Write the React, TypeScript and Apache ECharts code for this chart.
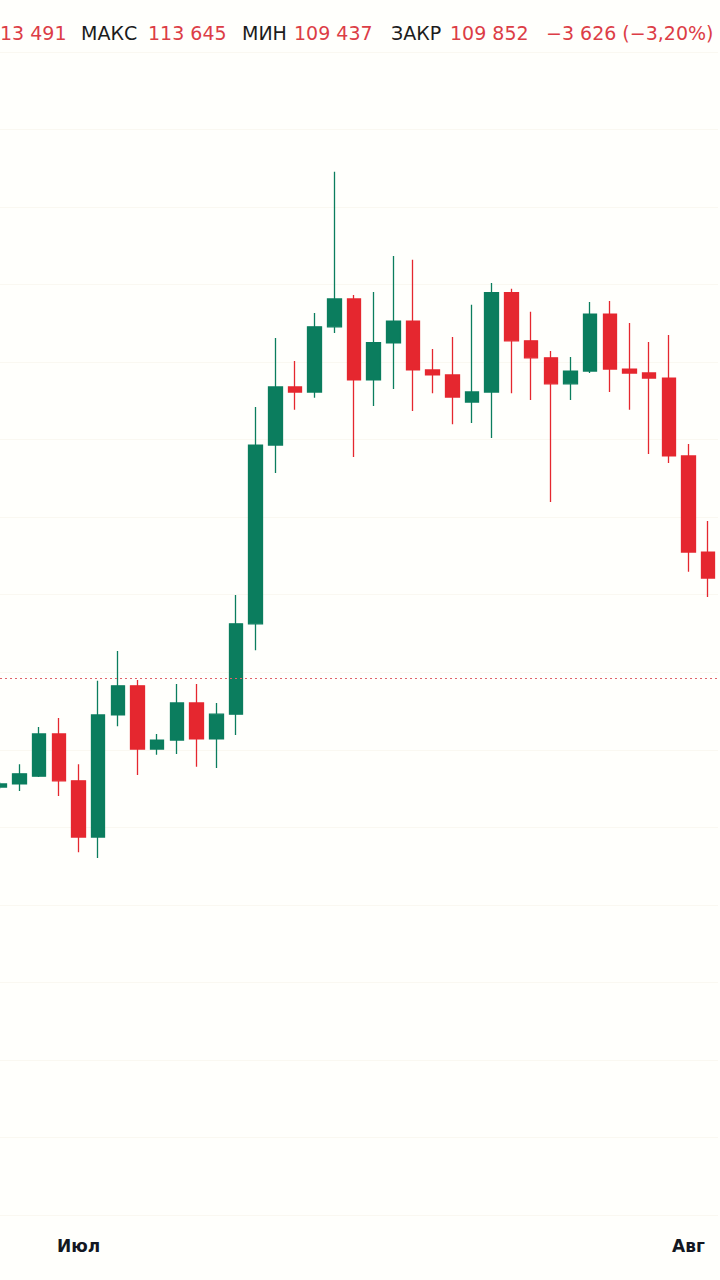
import React, { useEffect, useRef } from "react";
import * as echarts from "echarts";

// Daily candles, 27 Jun – 2 Aug
const dates = [
  "2025-06-27", "2025-06-28", "2025-06-29", "2025-06-30",
  "2025-07-01", "2025-07-02", "2025-07-03", "2025-07-04", "2025-07-05", "2025-07-06",
  "2025-07-07", "2025-07-08", "2025-07-09", "2025-07-10", "2025-07-11", "2025-07-12",
  "2025-07-13", "2025-07-14", "2025-07-15", "2025-07-16", "2025-07-17", "2025-07-18",
  "2025-07-19", "2025-07-20", "2025-07-21", "2025-07-22", "2025-07-23", "2025-07-24",
  "2025-07-25", "2025-07-26", "2025-07-27", "2025-07-28", "2025-07-29", "2025-07-30",
  "2025-07-31", "2025-08-01", "2025-08-02",
];

const opens = [
  107040, 107120, 107320, 108410, 107200, 105750, 108900, 109650, 108020, 108250,
  109210, 108280, 108920, 111250, 115860, 117360, 117230, 118910, 119630, 117540,
  118500, 119060, 117800, 117670, 116970, 117230, 119790, 118550, 118110, 117440,
  117770, 119240, 117820, 117720, 117590, 115580, 113100,
];
const closes = [
  107120, 107380, 108410, 107200, 105750, 108900, 109650, 108020, 108250, 109210,
  108280, 108920, 111250, 115860, 117360, 117230, 118910, 119630, 117540, 118500,
  119060, 117800, 117670, 117100, 117230, 119790, 118550, 118110, 117440, 117770,
  119240, 117820, 117720, 117590, 115580, 113100, 112430,
];
const highs = [
  107170, 107630, 108590, 108820, 107630, 109780, 110550, 109800, 108410, 109700,
  109700, 109210, 111990, 116840, 118620, 118030, 119270, 122910, 119730, 119810,
  120740, 120640, 118340, 118650, 119480, 120040, 119890, 119300, 118290, 118130,
  119550, 119580, 119010, 118520, 118700, 115890, 113900,
];
const lows = [
  106990, 106940, 107300, 106810, 105360, 105210, 108610, 107350, 107870, 107890,
  107560, 107530, 108380, 110570, 115140, 116770, 117080, 118750, 115550, 116870,
  117310, 116740, 117200, 116400, 116430, 116040, 117200, 117020, 114390, 117020,
  117720, 117230, 116770, 115630, 115400, 112590, 111940,
];

const monthLabels: Record<string, string> = {
  "2025-07-01": "Июл",
  "2025-08-01": "Авг",
};

const priceLine = 109852;

// header legend: text pieces and whether they are values (red) or labels (dark)
const headerTexts = ["13 491", "МАКС", "113 645", "МИН", "109 437", "ЗАКР", "109 852", "−3 626 (−3,20%)"];
const headerIsValue = [true, false, true, false, true, false, true, true];
const headerX = [0, 81, 148, 242, 294, 391, 450, 546];

const UP = "#0b7d5e";
const DOWN = "#e5272f";
const SHIFT = 10; // chart canvas starts 10px left of the page so the first candle is cut

export default function App() {
  const ref = useRef<HTMLDivElement>(null);

  useEffect(() => {
    if (!ref.current) return;
    const chart = echarts.init(ref.current, undefined, { renderer: "svg" });
    const candleData = dates.map((_, i) => [opens[i], closes[i], lows[i], highs[i]]);

    const headerGraphics = headerTexts.map((t, i) => ({
      type: "text",
      left: headerX[i] + SHIFT,
      top: 23,
      style: {
        text: t,
        fill: headerIsValue[i] ? "#dc3d46" : "#1c1c1c",
        font: "19px 'DejaVu Sans', sans-serif",
      },
    }));

    chart.setOption({
      animation: false,
      backgroundColor: "#fffffc",
      grid: { left: 0, right: 2, top: 52, bottom: 65 },
      xAxis: {
        type: "category",
        data: dates,
        boundaryGap: true,
        axisLine: { show: false },
        axisTick: { show: false },
        axisLabel: {
          interval: (_i: number, v: string) => v in monthLabels,
          formatter: (v: string) => monthLabels[v] ?? "",
          color: "#131722",
          fontWeight: "bold",
          fontSize: 17,
          fontFamily: "'DejaVu Sans', sans-serif",
          margin: 22,
        },
        splitLine: { show: false },
      },
      yAxis: {
        type: "value",
        min: 96000,
        max: 126000,
        interval: 2000,
        axisLine: { show: false },
        axisTick: { show: false },
        axisLabel: { show: false },
        splitLine: { show: true, lineStyle: { color: "#faf8f1", width: 1 } },
      },
      graphic: headerGraphics,
      series: [
        {
          type: "candlestick",
          data: candleData,
          barWidth: 14,
          itemStyle: {
            color: UP,
            color0: DOWN,
            borderColor: UP,
            borderColor0: DOWN,
            borderWidth: 1.3,
          },
          markLine: {
            silent: true,
            symbol: ["none", "none"],
            label: { show: false },
            lineStyle: { color: "#e0636b", type: [2, 3], width: 1 },
            data: [{ yAxis: priceLine }],
          },
        },
      ],
    });

    return () => chart.dispose();
  }, []);

  return (
    <div
      ref={ref}
      style={{ position: "absolute", left: -SHIFT, top: 0, width: 720 + SHIFT, height: 1280 }}
    />
  );
}
